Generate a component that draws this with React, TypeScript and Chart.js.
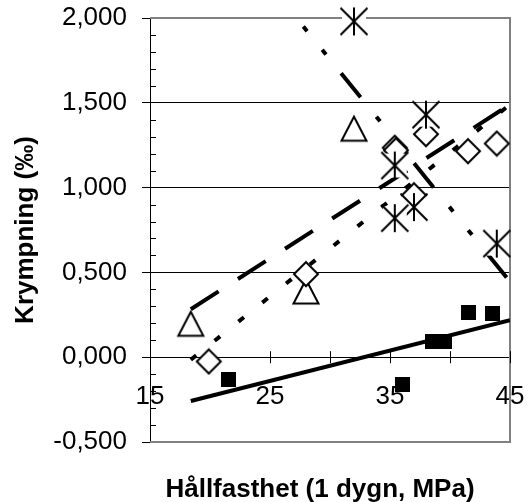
import React, { useEffect, useRef } from "react";
import { Chart, registerables } from "chart.js";

Chart.register(...registerables);

// ---- data ----
const squareX = [21.5, 36.0, 38.5, 39.5, 41.5, 43.5];
const squareY = [-0.13, -0.16, 0.095, 0.095, 0.265, 0.26];

const diamondX = [19.9, 28.0, 35.4, 35.5, 37.0, 38.0, 41.5, 43.9];
const diamondY = [-0.025, 0.49, 1.235, 1.22, 0.955, 1.315, 1.215, 1.26];

const triangleX = [18.4, 28.0, 32.0];
const triangleY = [0.2, 0.39, 1.35];

const starX = [32.0, 38.0, 35.4, 37.0, 35.4, 43.9];
const starY = [1.98, 1.43, 1.13, 0.885, 0.82, 0.67];

// trend lines (end points)
const solidLineX = [18.4, 45];
const solidLineY = [-0.258, 0.218];
const dottedLineX = [18.4, 45];
const dottedLineY = [-0.015, 1.49];
const dashedLineX = [18.4, 45];
const dashedLineY = [0.283, 1.49];
const dashDotLineX = [27.2, 45];
const dashDotLineY = [2.0, 0.445];

// axes
const xTickValues = [15, 20, 25, 30, 35, 40, 45];
const xTickLabels = [15, 25, 35, 45];
const yTickValues = [-0.5, 0, 0.5, 1.0, 1.5, 2.0];
const yMinorStep = 0.1;
const xMin = 15;
const xMax = 45;
const yMin = -0.5;
const yMax = 2.0;

const xTitle = "Hållfasthet (1 dygn, MPa)";
const yTitle = "Krympning (‰)";

const FONT = "'Liberation Sans', Arial, sans-serif";

const pts = (xs: number[], ys: number[]) => xs.map((x, i) => ({ x, y: ys[i] }));

function makeCanvas(size: number, draw: (g: CanvasRenderingContext2D) => void) {
  const c = document.createElement("canvas");
  c.width = size;
  c.height = size;
  const g = c.getContext("2d")!;
  draw(g);
  return c;
}

export default function App() {
  const ref = useRef<HTMLCanvasElement | null>(null);

  useEffect(() => {
    if (!ref.current) return;

    const squareImg = makeCanvas(15, (g) => {
      g.fillStyle = "#000";
      g.fillRect(0, 0, 15, 15);
    });
    const diamondImg = makeCanvas(28, (g) => {
      g.beginPath();
      g.moveTo(14, 2);
      g.lineTo(26, 14);
      g.lineTo(14, 26);
      g.lineTo(2, 14);
      g.closePath();
      g.fillStyle = "#fff";
      g.fill();
      g.lineWidth = 2;
      g.strokeStyle = "#000";
      g.stroke();
    });
    const triangleImg = makeCanvas(30, (g) => {
      g.beginPath();
      g.moveTo(15, 3.5);
      g.lineTo(27.5, 27.5);
      g.lineTo(2.5, 27.5);
      g.closePath();
      g.fillStyle = "#fff";
      g.fill();
      g.lineWidth = 2;
      g.strokeStyle = "#000";
      g.stroke();
    });
    const starImg = makeCanvas(30, (g) => {
      g.fillStyle = "#fff";
      g.fillRect(3, 3, 24, 24);
      g.strokeStyle = "#000";
      g.lineWidth = 2;
      g.beginPath();
      g.moveTo(1.5, 1.5);
      g.lineTo(28.5, 28.5);
      g.moveTo(28.5, 1.5);
      g.lineTo(1.5, 28.5);
      g.moveTo(15, 1);
      g.lineTo(15, 29);
      g.stroke();
    });

    const framePlugin = {
      id: "frame",
      beforeDatasetsDraw(chart: any) {
        const { ctx, chartArea } = chart;
        const xs = chart.scales.x;
        const ys = chart.scales.y;
        ctx.save();
        // grey plot border (top, right, bottom)
        ctx.strokeStyle = "#808080";
        ctx.lineWidth = 2;
        ctx.beginPath();
        ctx.moveTo(chartArea.left, chartArea.top);
        ctx.lineTo(chartArea.right, chartArea.top);
        ctx.lineTo(chartArea.right, chartArea.bottom);
        ctx.lineTo(chartArea.left, chartArea.bottom);
        ctx.stroke();
        // minor inside ticks on y axis
        ctx.strokeStyle = "#000";
        ctx.lineWidth = 1;
        ctx.beginPath();
        const n = Math.round((yMax - yMin) / yMinorStep);
        for (let i = 0; i <= n; i++) {
          const v = yMin + i * yMinorStep;
          if (Math.abs(v * 2 - Math.round(v * 2)) < 1e-6) continue;
          const y = Math.round(ys.getPixelForValue(v)) + 0.5;
          ctx.moveTo(chartArea.left, y);
          ctx.lineTo(chartArea.left + 6, y);
        }
        // crossing ticks on x axis (at y = 0)
        const y0 = ys.getPixelForValue(0);
        xTickValues.forEach((v) => {
          const x = Math.round(xs.getPixelForValue(v)) + 0.5;
          ctx.moveTo(x, y0 - 6);
          ctx.lineTo(x, y0 + 6);
        });
        ctx.stroke();
        ctx.restore();
      },
      afterDraw(chart: any) {
        const { ctx, chartArea } = chart;
        ctx.save();
        ctx.fillStyle = "#000";
        ctx.font = `bold 26px ${FONT}`;
        ctx.textAlign = "center";
        ctx.textBaseline = "alphabetic";
        ctx.fillText(xTitle, (chartArea.left + chartArea.right) / 2 - 10, chartArea.bottom + 55);
        ctx.restore();
      },
    };

    const lineDs = (xs: number[], ys: number[], dash: number[], offset = 0) => ({
      type: "scatter" as const,
      data: pts(xs, ys),
      showLine: true,
      borderColor: "#000",
      backgroundColor: "#000",
      borderWidth: 4,
      borderDash: dash,
      borderDashOffset: offset,
      borderCapStyle: "butt" as const,
      pointRadius: 0,
      pointHoverRadius: 0,
      fill: false,
    });

    const markerDs = (xs: number[], ys: number[], img: HTMLCanvasElement) => ({
      type: "scatter" as const,
      data: pts(xs, ys),
      pointStyle: img,
      pointRadius: 10,
      pointHoverRadius: 10,
      showLine: false,
      clip: false as const,
    });

    const chart = new Chart(ref.current, {
      type: "scatter",
      data: {
        datasets: [
          markerDs(starX, starY, starImg),
          markerDs(diamondX, diamondY, diamondImg),
          markerDs(triangleX, triangleY, triangleImg),
          markerDs(squareX, squareY, squareImg),
          lineDs(dashDotLineX, dashDotLineY, [6, 24, 6, 24, 31, 25], 105),
          lineDs(dashedLineX, dashedLineY, [33, 23]),
          lineDs(dottedLineX, dottedLineY, [7, 23.5]),
          lineDs(solidLineX, solidLineY, []),
        ] as any,
      },
      options: {
        responsive: false,
        animation: false,
        events: [],
        layout: { padding: { top: 18, right: 21, bottom: 60, left: 6 } },
        plugins: {
          legend: { display: false },
          tooltip: { enabled: false },
          title: { display: false },
        },
        scales: {
          x: {
            type: "linear",
            min: xMin,
            max: xMax,
            position: { y: 0 } as any,
            afterBuildTicks: (s: any) => {
              s.ticks = xTickValues.map((v) => ({ value: v }));
            },
            afterFit: (s: any) => {
              s.paddingLeft = 0;
              s.paddingRight = 0;
              s.paddingTop = 0;
              s.paddingBottom = 0;
            },
            grid: { display: false, drawTicks: false },
            border: { display: false },
            ticks: {
              autoSkip: false,
              maxRotation: 0,
              minRotation: 0,
              padding: 24,
              color: "#000",
              font: { family: FONT, size: 26 },
              callback: (v: any) => (xTickLabels.includes(Number(v)) ? String(v) : ""),
            },
          },
          y: {
            type: "linear",
            min: yMin,
            max: yMax,
            position: "left",
            afterBuildTicks: (s: any) => {
              s.ticks = yTickValues.map((v) => ({ value: v }));
            },
            afterFit: (s: any) => {
              s.width = 144;
              s.paddingTop = 0;
              s.paddingBottom = 0;
            },
            grid: {
              color: (c: any) =>
                c.tick && (c.tick.value === yMin || c.tick.value === yMax) ? "rgba(0,0,0,0)" : "#000",
              tickColor: "#000",
              tickLength: 8,
              lineWidth: 1,
            },
            border: { display: true, color: "#000", width: 1 },
            ticks: {
              autoSkip: false,
              padding: 15,
              color: "#000",
              font: { family: FONT, size: 26 },
              callback: (v: any) => Number(v).toFixed(3).replace(".", ","),
            },
            title: {
              display: true,
              text: yTitle,
              color: "#000",
              font: { family: FONT, size: 26, weight: "bold" },
              padding: { top: 4, bottom: 4 },
            },
          },
        },
      } as any,
      plugins: [framePlugin],
    });

    return () => chart.destroy();
  }, []);

  return (
    <div style={{ position: "fixed", left: 0, top: 0, width: 531, height: 502, background: "#fff" }}>
      <canvas ref={ref} width={531} height={502} style={{ display: "block", width: 531, height: 502 }} />
    </div>
  );
}
